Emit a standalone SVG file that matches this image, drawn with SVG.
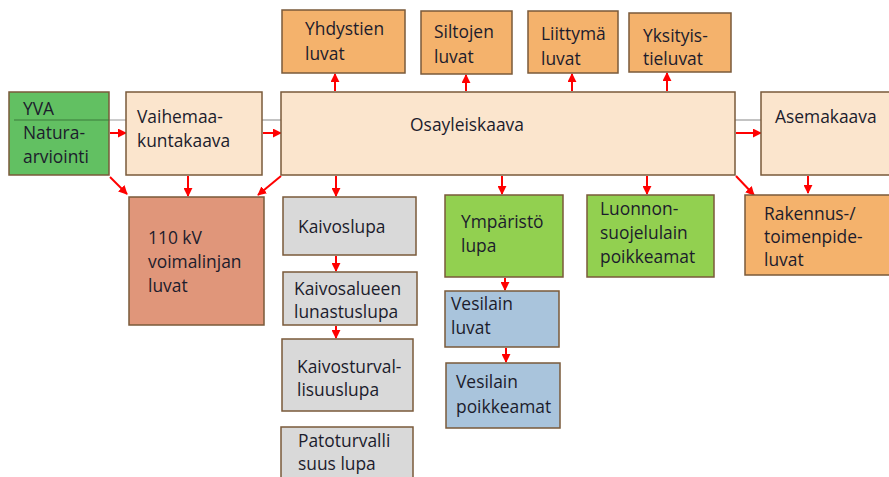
<svg xmlns="http://www.w3.org/2000/svg" width="889" height="477" viewBox="0 0 889 477">
<style>
.b{stroke:#7a5a3a;stroke-width:1.5}
.t{font-family:"Open Sans","Liberation Sans",sans-serif;font-size:17.4px;fill:#1c1c2c}
.peach{fill:#fbe5cd}.or{fill:#f4b26c}.gr{fill:#d9d9d9}.g1{fill:#62c062}.g2{fill:#92d050}.bl{fill:#a9c4dc}.rd{fill:#e0967a}
.a{stroke:#ff0000;stroke-width:2;fill:none;marker-end:url(#ah)}
.gl{stroke:#9a9a9a;stroke-width:1.2}
</style>
<defs>
<marker id="ah" viewBox="0 0 10 10" refX="9" refY="5" markerWidth="4.5" markerHeight="4.5" orient="auto" markerUnits="strokeWidth">
<path d="M0,0 L10,5 L0,10 z" fill="#ff0000"/>
</marker>
</defs>
<rect width="889" height="477" fill="#ffffff"/>
<g id="connectors">
<line class="gl" x1="14" y1="120" x2="126" y2="120"/>
<line class="gl" x1="262" y1="120" x2="281" y2="120"/>
<line class="gl" x1="735" y1="120" x2="761" y2="120"/>
<line class="a" x1="110" y1="133" x2="126" y2="133"/>
<line class="a" x1="263" y1="133" x2="281" y2="133"/>
<line class="a" x1="736" y1="133" x2="761" y2="133"/>
<line class="a" x1="335" y1="91" x2="335" y2="74"/>
<line class="a" x1="466" y1="91" x2="466" y2="75"/>
<line class="a" x1="572" y1="91" x2="572" y2="74"/>
<line class="a" x1="667" y1="91" x2="667" y2="73"/>
<line class="a" x1="110" y1="177" x2="127" y2="194"/>
<line class="a" x1="188" y1="176" x2="188" y2="196"/>
<line class="a" x1="281" y1="176" x2="258" y2="195"/>
<line class="a" x1="336" y1="176" x2="336" y2="196"/>
<line class="a" x1="336" y1="256" x2="336" y2="271"/>
<line class="a" x1="336" y1="326" x2="336" y2="338"/>
<line class="a" x1="502" y1="176" x2="502" y2="194"/>
<line class="a" x1="647" y1="176" x2="647" y2="194"/>
<line class="a" x1="505" y1="278" x2="505" y2="290"/>
<line class="a" x1="506" y1="348" x2="506" y2="362"/>
<line class="a" x1="736" y1="176" x2="754" y2="195"/>
<line class="a" x1="808" y1="176" x2="808" y2="193"/>
</g>
<g id="yva"><rect class="b g1" x="9" y="92" width="100" height="83"/><line x1="14" y1="120" x2="109" y2="120" stroke="#3a7a3a" stroke-width="1.2"/><text class="t" x="23" y="115">YVA</text><text class="t" x="23" y="139">Natura-</text><text class="t" x="23" y="163">arviointi</text></g>
<g id="vaihemaa"><rect class="b peach" x="126" y="92" width="136" height="83"/><text class="t" x="137" y="123">Vaihemaa-</text><text class="t" x="137" y="147">kuntakaava</text></g>
<g id="osayleiskaava"><rect class="b peach" x="281" y="92" width="454" height="83"/><text class="t" x="467" y="131" text-anchor="middle">Osayleiskaava</text></g>
<g id="asemakaava"><rect class="b peach" x="761" y="92" width="140" height="83"/><text class="t" x="775" y="123">Asemakaava</text></g>
<g id="yhdystien"><rect class="b or" x="282" y="10" width="123" height="63"/><text class="t" x="305" y="35">Yhdystien</text><text class="t" x="305" y="60">luvat</text></g>
<g id="siltojen"><rect class="b or" x="421" y="11" width="91" height="63"/><text class="t" x="434" y="38">Siltojen</text><text class="t" x="434" y="63">luvat</text></g>
<g id="liittyma"><rect class="b or" x="528" y="11" width="90" height="62"/><text class="t" x="541" y="40">Liittymä</text><text class="t" x="541" y="65">luvat</text></g>
<g id="yksityis"><rect class="b or" x="629" y="13" width="102" height="59"/><text class="t" x="643" y="42">Yksityis-</text><text class="t" x="643" y="65">tieluvat</text></g>
<g id="voimalinja"><rect class="b rd" x="129" y="197" width="135" height="128"/><text class="t" x="148" y="244">110 kV</text><text class="t" x="148" y="268">voimalinjan</text><text class="t" x="148" y="292">luvat</text></g>
<g id="kaivoslupa"><rect class="b gr" x="283" y="197" width="133" height="58"/><text class="t" x="298" y="233">Kaivoslupa</text></g>
<g id="kaivosalueen"><rect class="b gr" x="283" y="272" width="134" height="53"/><text class="t" x="294" y="295">Kaivosalueen</text><text class="t" x="294" y="318">lunastuslupa</text></g>
<g id="kaivosturval"><rect class="b gr" x="282" y="339" width="131" height="72"/><text class="t" x="297" y="373">Kaivosturval-</text><text class="t" x="297" y="396">lisuuslupa</text></g>
<g id="patoturvalli"><rect class="b gr" x="281" y="427" width="132" height="60"/><text class="t" x="298" y="447">Patoturvalli</text><text class="t" x="298" y="470">suus lupa</text></g>
<g id="ymparisto"><rect class="b g2" x="445" y="195" width="118" height="82"/><text class="t" x="461" y="228">Ympäristö</text><text class="t" x="461" y="252">lupa</text></g>
<g id="luonnon"><rect class="b g2" x="587" y="195" width="127" height="82"/><text class="t" x="600" y="215">Luonnon-</text><text class="t" x="600" y="239">suojelulain</text><text class="t" x="600" y="263">poikkeamat</text></g>
<g id="vesilain-luvat"><rect class="b bl" x="445" y="291" width="114" height="56"/><text class="t" x="451" y="310">Vesilain</text><text class="t" x="451" y="334">luvat</text></g>
<g id="vesilain-poikkeamat"><rect class="b bl" x="446" y="363" width="114" height="65"/><text class="t" x="456" y="388">Vesilain</text><text class="t" x="456" y="413">poikkeamat</text></g>
<g id="rakennus"><rect class="b or" x="745" y="195" width="150" height="80"/><text class="t" x="764" y="220">Rakennus-/</text><text class="t" x="764" y="243">toimenpide-</text><text class="t" x="764" y="266">luvat</text></g>
</svg>
